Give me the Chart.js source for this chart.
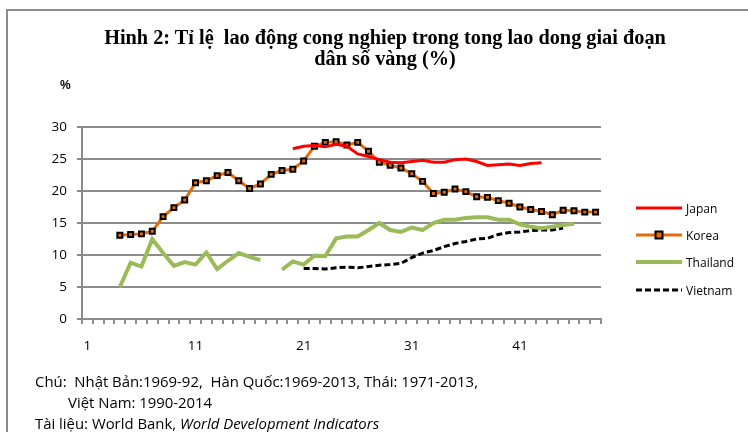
<!DOCTYPE html>
<html>
<head>
<meta charset="utf-8">
<script src="https://cdn.jsdelivr.net/npm/chart.js@4.4.1/dist/chart.umd.min.js"></script>
<style>
  html, body { margin: 0; padding: 0; background: #fff; overflow: hidden; }
  #wrap { position: relative; width: 748px; height: 432px; overflow: hidden; background: #fff; }
  #c { position: absolute; left: 0; top: 0; }
  #frame { position: absolute; left: 6px; top: 9px; width: 800px; height: 500px;
           border-top: 2px solid #8c8c8c; border-left: 2px solid #8c8c8c; }
  .title { position: absolute; left: 0; width: 770px; text-align: center;
           font-family: "Liberation Serif", "DejaVu Serif", serif; font-weight: bold;
           font-size: 20.3px; color: #000; white-space: pre; line-height: 20px; }
  .pct { position: absolute; left: 60px; top: 78px; font-family: "Liberation Sans", sans-serif;
         font-weight: bold; font-size: 12px; color: #000; }
  .note { position: absolute; font-family: "Open Sans", "Liberation Sans", sans-serif;
          font-size: 14.9px; color: #000; white-space: pre; line-height: 16px; }
  #legend { position: absolute; left: 636px; top: 199px; font-family: "Open Sans", "Liberation Sans", sans-serif;
            font-size: 12px; color: #000; }
  .item { position: absolute; left: 0; height: 18px; display: flex; align-items: center; white-space: nowrap; }
  .item svg { margin-right: 4px; }
</style>
</head>
<body>
<div id="wrap">
  <canvas id="c" width="748" height="432"></canvas>
  <div id="frame"></div>
  <div class="title" style="top:27px;">Hinh 2: Tỉ lệ  lao động cong nghiep trong tong lao dong giai đoạn</div>
  <div class="title" style="top:48px;">dân số vàng (%)</div>
  <div class="pct">%</div>
  <div id="legend"></div>
  <div class="note" style="left:35px; top:373px;">Chú:  Nhật Bản:1969-92,  Hàn Quốc:1969-2013, Thái: 1971-2013,</div>
  <div class="note" style="left:68px; top:394px;">Việt Nam: 1990-2014</div>
  <div class="note" style="left:35px; top:415px;">Tài liệu: World Bank, <i>World Development Indicators</i></div>
</div>
<script>
// ---- Data ----
const categories = ["1","2","3","4","5","6","7","8","9","10","11","12","13","14","15","16","17","18","19","20",
  "21","22","23","24","25","26","27","28","29","30","31","32","33","34","35","36","37","38","39","40",
  "41","42","43","44","45","46","47","48"];

const seriesNames = ["Japan", "Korea", "Thailand", "Vietnam"];

// Japan: positions 20..43
const japan = [null,null,null,null,null,null,null,null,null,null,null,null,null,null,null,null,null,null,null,
  26.6,27.0,27.1,26.9,27.3,27.0,25.8,25.4,24.9,24.5,24.4,24.6,24.8,24.5,24.5,24.9,25.0,24.6,24.0,24.1,24.2,24.0,24.3,24.4,
  null,null,null,null,null];

// Korea: positions 4..48
const korea = [null,null,null,
  13.1,13.2,13.3,13.7,16.0,17.4,18.6,21.3,21.6,22.4,22.9,21.6,20.4,21.1,22.6,23.2,23.4,
  24.7,27.0,27.6,27.7,27.2,27.6,26.2,24.5,24.0,23.6,22.7,21.5,19.6,19.8,20.3,19.9,19.1,19.0,18.5,18.1,17.5,17.1,16.8,16.3,17.0,16.9,16.7,16.7];

// Thailand: positions 4..46 (gap at 18)
const thailand = [null,null,null,
  5.0,8.8,8.2,12.5,10.3,8.3,8.9,8.5,10.4,7.8,9.1,10.3,9.7,9.2,null,7.7,9.0,
  8.5,9.9,9.8,12.6,12.9,12.9,13.9,15.0,13.9,13.6,14.3,13.9,15.0,15.5,15.5,15.8,15.9,15.9,15.5,15.5,14.8,14.4,14.2,14.4,14.7,14.9,
  null,null];

// Vietnam: positions 21..45
const vietnam = [null,null,null,null,null,null,null,null,null,null,null,null,null,null,null,null,null,null,null,null,
  7.9,7.9,7.8,8.0,8.1,8.0,8.2,8.4,8.5,8.7,9.6,10.3,10.7,11.3,11.8,12.1,12.5,12.6,13.2,13.5,13.6,13.8,13.9,13.9,14.2,
  null,null,null];

const yTicks = [0, 5, 10, 15, 20, 25, 30];
const xLabelEvery = 10;

// ---- Styles ----
const colors = { japan: "#ff0000", korea: "#e46c0a", thailand: "#9bbb59", vietnam: "#000000" };
const gridColor = "#8c8c8c";

const datasets = [
  { label: seriesNames[0], data: japan, borderColor: colors.japan, borderWidth: 3, pointRadius: 0, spanGaps: false, tension: 0 },
  { label: seriesNames[1], data: korea, borderColor: colors.korea, borderWidth: 3, pointStyle: "rect", pointRadius: 3.5,
    pointBackgroundColor: colors.korea, pointBorderColor: "#000", pointBorderWidth: 2, spanGaps: false, tension: 0 },
  { label: seriesNames[2], data: thailand, borderColor: colors.thailand, borderWidth: 4, pointRadius: 0, spanGaps: false, tension: 0 },
  { label: seriesNames[3], data: vietnam, borderColor: colors.vietnam, borderWidth: 3, borderDash: [6, 3], pointRadius: 0, spanGaps: false, tension: 0 }
];

new Chart(document.getElementById("c"), {
  type: "line",
  data: { labels: categories, datasets: datasets },
  options: {
    responsive: false,
    animation: false,
    layout: { padding: { left: 0, right: 147, top: 127, bottom: 0 } },
    plugins: { legend: { display: false }, title: { display: false }, tooltip: { enabled: false } },
    scales: {
      y: {
        min: yTicks[0], max: yTicks[yTicks.length - 1],
        afterBuildTicks: (s) => { s.ticks = yTicks.map(v => ({ value: v })); },
        afterFit: (s) => { s.width = 82; },
        ticks: { color: "#000", font: { family: "Open Sans", size: 13.5 }, padding: 10 },
        grid: { color: gridColor, lineWidth: 2, tickLength: 5, tickColor: gridColor },
        border: { color: gridColor, width: 2 }
      },
      x: {
        type: "category",
        offset: true,
        afterFit: (s) => { s.height = 113; },
        ticks: {
          autoSkip: false, maxRotation: 0, minRotation: 0,
          color: "#000", font: { family: "Open Sans", size: 13.5 }, padding: 14,
          callback: function (v, i) { return i % xLabelEvery === 0 ? categories[i] : ""; }
        },
        grid: { offset: true, drawOnChartArea: false, tickLength: 5, color: gridColor, lineWidth: 2 },
        border: { color: gridColor, width: 2 }
      }
    }
  }
});

// ---- HTML legend built from the datasets ----
const legend = document.getElementById("legend");
const legendTops = [0, 27, 54, 82];
datasets.forEach((ds, k) => {
  const item = document.createElement("div");
  item.className = "item";
  item.style.top = legendTops[k] + "px";
  let svg = '<svg width="46" height="12" viewBox="0 0 46 12">';
  const dash = ds.borderDash ? ' stroke-dasharray="' + ds.borderDash.join(",") + '"' : "";
  svg += '<line x1="0" y1="6" x2="46" y2="6" stroke="' + ds.borderColor + '" stroke-width="' + ds.borderWidth + '"' + dash + '/>';
  if (ds.pointStyle === "rect") {
    svg += '<rect x="19.5" y="2.5" width="7" height="7" fill="' + ds.pointBackgroundColor + '" stroke="#000" stroke-width="2"/>';
  }
  svg += "</svg>";
  item.innerHTML = svg + "<span>" + ds.label + "</span>";
  legend.appendChild(item);
});
</script>
</body>
</html>
